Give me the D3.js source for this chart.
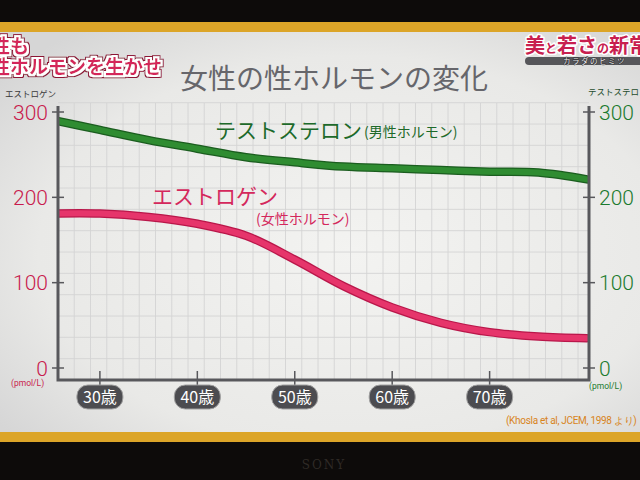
<!DOCTYPE html>
<html><head><meta charset="utf-8">
<script src="https://cdn.jsdelivr.net/npm/d3@7"></script>
<style>html,body{margin:0;padding:0;background:#000;overflow:hidden}svg{display:block}</style>
</head><body>
<script>
// ---- data ----
const ages = [25, 30, 35, 40, 45, 50, 55, 60, 65, 70, 75, 80];
const testosterone = [291, 279, 267, 257, 247, 241, 236, 234, 232, 230, 229, 221];
const estrogen = [181, 181, 177, 169, 155, 127, 96, 71, 53, 42, 37, 35];
const xTickAges = [30, 40, 50, 60, 70];
const yTicks = [0, 100, 200, 300];
const xTickLabels = ["30歳", "40歳", "50歳", "60歳", "70歳"];

const W = 640, H = 480;
const JP = "'Noto Sans CJK JP','Noto Sans',sans-serif";
const NUM = "Roboto,'Noto Sans',sans-serif";

const svg = d3.select("body").append("svg").attr("width", W).attr("height", H);
const defs = svg.append("defs");
const rg = defs.append("radialGradient").attr("id", "bg").attr("cx", "55%").attr("cy", "55%").attr("r", "70%");
rg.append("stop").attr("offset", "0%").attr("stop-color", "#f3f3f1");
rg.append("stop").attr("offset", "70%").attr("stop-color", "#e9e9e7");
rg.append("stop").attr("offset", "100%").attr("stop-color", "#d6d6d6");

// outline filter: dark outer ring, white inner ring
function outlineFilter(id, outer) {
  const f = defs.append("filter").attr("id", id).attr("x", "-10%").attr("y", "-30%").attr("width", "120%").attr("height", "160%");
  f.append("feMorphology").attr("in", "SourceAlpha").attr("operator", "dilate").attr("radius", 2.6).attr("result", "d2");
  f.append("feFlood").attr("flood-color", outer).attr("result", "c2");
  f.append("feComposite").attr("in", "c2").attr("in2", "d2").attr("operator", "in").attr("result", "o2");
  f.append("feMorphology").attr("in", "SourceAlpha").attr("operator", "dilate").attr("radius", 1.5).attr("result", "d1");
  f.append("feFlood").attr("flood-color", "#ffffff").attr("result", "c1");
  f.append("feComposite").attr("in", "c1").attr("in2", "d1").attr("operator", "in").attr("result", "o1");
  const m = f.append("feMerge");
  m.append("feMergeNode").attr("in", "o2");
  m.append("feMergeNode").attr("in", "o1");
  m.append("feMergeNode").attr("in", "SourceGraphic");
}
outlineFilter("outlinePink", "#8c1836");

// screen frame
svg.append("rect").attr("width", W).attr("height", H).attr("fill", "#0d0b0a");
svg.append("rect").attr("x", 0).attr("y", 22).attr("width", W).attr("height", 420).attr("fill", "#dca528");
svg.append("rect").attr("x", 0).attr("y", 32).attr("width", W).attr("height", 400).attr("fill", "url(#bg)");
svg.append("text").attr("x", 324).attr("y", 469).attr("text-anchor", "middle")
  .attr("font-family", "'DejaVu Serif',serif").attr("font-size", 12).attr("letter-spacing", 2)
  .attr("fill", "#2f2a26").text("SONY");

// scales
const x = d3.scaleLinear().domain([25.7, 80.2]).range([58, 589]);
const y = d3.scaleLinear().domain([0, 300]).range([368, 112]);
const plotTop = 103, plotBottom = 380;

// grid
const grid = svg.append("g").attr("stroke", "#d4d4d4").attr("stroke-width", 0.9);
d3.range(58 + 16.25, 589, 16.25).forEach(gx => {
  grid.append("line").attr("x1", gx).attr("x2", gx).attr("y1", plotTop).attr("y2", plotBottom);
});
d3.range(plotBottom - 21.33, plotTop - 1, -21.33).forEach(gy => {
  grid.append("line").attr("x1", 58).attr("x2", 589).attr("y1", gy).attr("y2", gy);
});

// title
svg.append("text").attr("x", 180).attr("y", 89).attr("font-family", JP).attr("font-size", 28)
  .attr("fill", "#66666b").text("女性の性ホルモンの変化");

// top-left pink caption (cut off at the left edge, as on the screen)
const cap = svg.append("text").attr("filter", "url(#outlinePink)").attr("font-family", JP)
  .attr("font-weight", 700).attr("font-size", 19).attr("fill", "#d4265a");
cap.append("tspan").attr("x", -9).attr("y", 53).text("性も");
cap.append("tspan").attr("x", -9).attr("y", 74).text("性ホルモンを生かせ");

// top-right program logo (one text element)
svg.append("rect").attr("x", 525).attr("y", 57).attr("width", 130).attr("height", 8).attr("rx", 4).attr("fill", "#56565a");
const lt = svg.append("text").attr("x", 525).attr("y", 53).attr("font-family", JP).attr("font-weight", 700)
  .attr("fill", "#c8204f").attr("stroke", "#ffffff").attr("stroke-width", 3)
  .attr("stroke-linejoin", "round").attr("paint-order", "stroke");
[["美", 20], ["と", 12], ["若さ", 20], ["の", 12], ["新常", 20]].forEach(([s, fs]) => {
  lt.append("tspan").attr("font-size", fs).text(s);
});
lt.append("tspan").attr("x", 563).attr("y", 64.3).attr("font-size", 7.5).attr("font-weight", 400)
  .attr("letter-spacing", 1.5).attr("fill", "#ececec").attr("stroke", "#333336").attr("stroke-width", 1.2)
  .text("カラダのヒミツ");

// axis captions
svg.append("text").attr("x", 5).attr("y", 97).attr("font-family", JP).attr("font-size", 8.5)
  .attr("fill", "#3a3a3a").text("エストロゲン");
svg.append("text").attr("x", 588).attr("y", 95).attr("font-family", JP).attr("font-size", 8.5)
  .attr("fill", "#1f4d2c").text("テストステロン");

// lines
defs.append("clipPath").attr("id", "clip").append("rect")
  .attr("x", 58).attr("y", 90).attr("width", 531).attr("height", 290);
const line = d3.line().x((d, i) => x(ages[i])).y(d => y(d)).curve(d3.curveCatmullRom.alpha(0.5));
const lines = svg.append("g").attr("clip-path", "url(#clip)");
function band(vals, edge, fill) {
  lines.append("path").attr("d", line(vals)).attr("fill", "none").attr("stroke", edge)
    .attr("stroke-width", 8.5).attr("stroke-linecap", "round");
  lines.append("path").attr("d", line(vals)).attr("fill", "none").attr("stroke", fill)
    .attr("stroke-width", 6).attr("stroke-linecap", "round");
}
band(testosterone, "#1b5d1f", "#2f8c31");
band(estrogen, "#b9174a", "#e6356b");

// series labels
svg.append("text").attr("x", 215).attr("y", 138).attr("font-family", JP).attr("font-size", 21)
  .attr("fill", "#1d6a2a").text("テストステロン");
svg.append("text").attr("x", 364).attr("y", 137).attr("font-family", JP).attr("font-size", 14)
  .attr("fill", "#1d6a2a").text("(男性ホルモン)");
svg.append("text").attr("x", 152).attr("y", 204).attr("font-family", JP).attr("font-size", 21)
  .attr("fill", "#d4285c").text("エストロゲン");
svg.append("text").attr("x", 256).attr("y", 224).attr("font-family", JP).attr("font-size", 14)
  .attr("fill", "#d4285c").text("(女性ホルモン)");

// axes
const axisColor = "#58585c";
const leftAxis = svg.append("g").attr("transform", "translate(58,0)")
  .call(d3.axisLeft(y).tickValues(yTicks).tickSize(0).tickFormat(""));
leftAxis.select(".domain").remove();
const rightAxis = svg.append("g").attr("transform", "translate(589,0)")
  .call(d3.axisRight(y).tickValues(yTicks).tickSize(0).tickFormat(""));
rightAxis.select(".domain").remove();

const ax = svg.append("g").attr("stroke", axisColor).attr("fill", "none");
ax.append("path").attr("stroke-width", 3)
  .attr("d", `M58,${y(300) - 6}V${plotBottom}H589V${y(300) - 6}`);
yTicks.forEach(v => {
  ax.append("line").attr("x1", 52).attr("x2", 64).attr("y1", y(v)).attr("y2", y(v)).attr("stroke-width", 1.5);
  ax.append("line").attr("x1", 583).attr("x2", 595).attr("y1", y(v)).attr("y2", y(v)).attr("stroke-width", 1.5);
});
yTicks.forEach(v => {
  svg.append("text").attr("x", 48).attr("y", y(v) + 7.5).attr("text-anchor", "end")
    .attr("font-family", NUM).attr("font-weight", 300).attr("font-size", 21).attr("fill", "#c81a4d").text(v);
  svg.append("text").attr("x", 599).attr("y", y(v) + 7.5)
    .attr("font-family", NUM).attr("font-weight", 300).attr("font-size", 21).attr("fill", "#1b7a2e").text(v);
});
svg.append("text").attr("x", 11).attr("y", 386).attr("font-family", NUM).attr("font-size", 8.5)
  .attr("fill", "#c81a4d").text("(pmol/L)");
svg.append("text").attr("x", 589).attr("y", 389).attr("font-family", NUM).attr("font-size", 8.5)
  .attr("fill", "#1b7a2e").text("(pmol/L)");

// x ticks with pill labels
const bottomAxis = svg.append("g").attr("transform", `translate(0,${plotBottom})`)
  .call(d3.axisBottom(x).tickValues(xTickAges).tickSize(0).tickFormat(""));
bottomAxis.select(".domain").remove();
xTickAges.forEach((a, i) => {
  const cx = x(a);
  svg.append("line").attr("x1", cx).attr("x2", cx).attr("y1", 371).attr("y2", 386)
    .attr("stroke", axisColor).attr("stroke-width", 1.5);
  svg.append("rect").attr("x", cx - 23).attr("y", 385).attr("width", 46).attr("height", 24).attr("rx", 11)
    .attr("fill", "#4c4c50").attr("stroke", "#a0a0a0").attr("stroke-width", 1);
  svg.append("text").attr("x", cx).attr("y", 403).attr("text-anchor", "middle")
    .attr("font-family", JP).attr("font-size", 16).attr("fill", "#ffffff").text(xTickLabels[i]);
});

// citation
svg.append("text").attr("x", 506).attr("y", 424).attr("font-family", NUM).attr("font-size", 10)
  .attr("letter-spacing", -0.3).attr("fill", "#d8841c").text("(Khosla et al, JCEM, 1998 より)");
</script>
</body></html>
